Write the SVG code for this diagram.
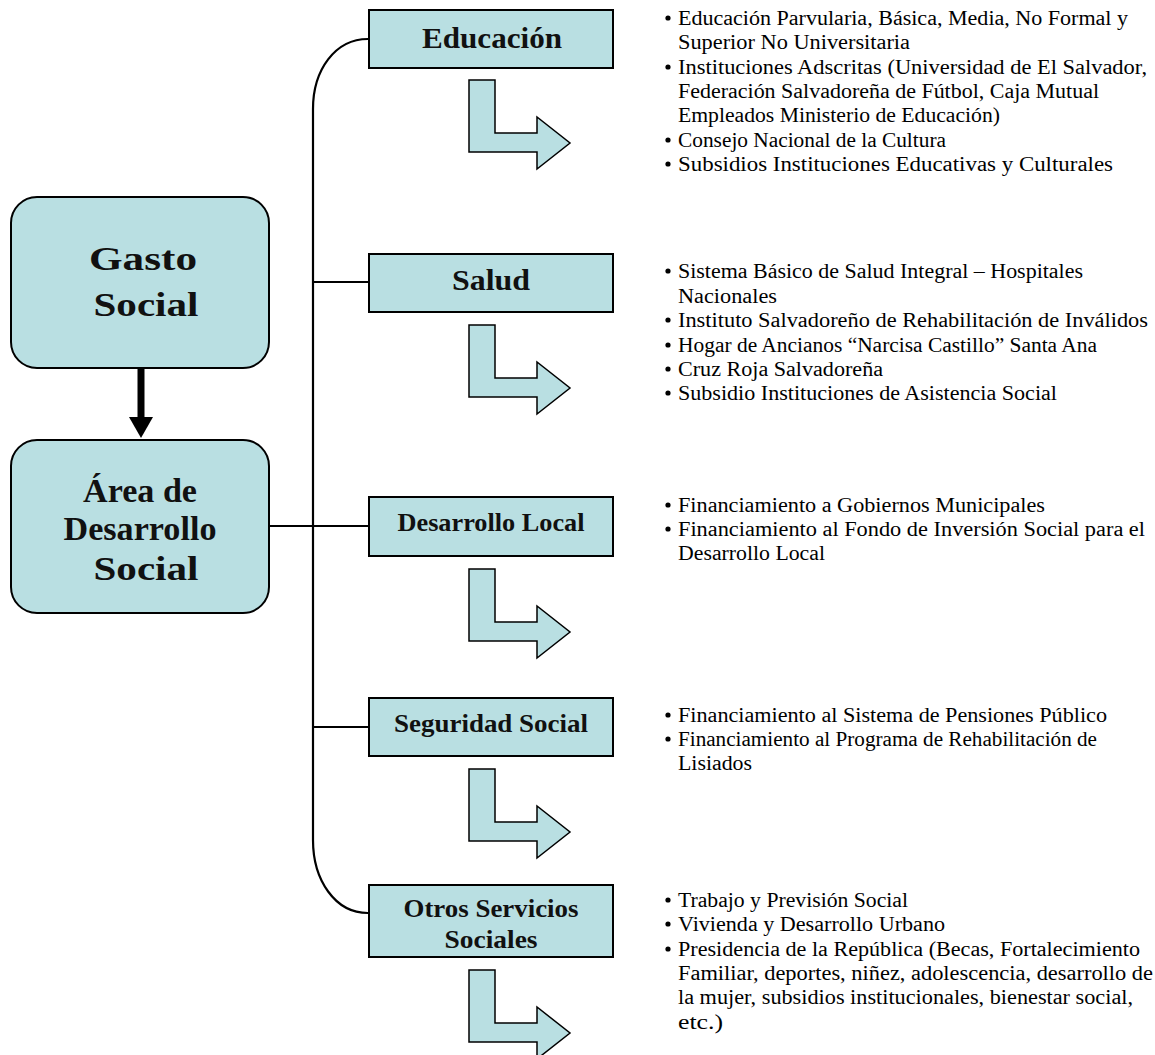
<svg xmlns="http://www.w3.org/2000/svg" width="1155" height="1055" viewBox="0 0 1155 1055">
<style>
.box{fill:#B9DFE2;stroke:#000;stroke-width:2}
.conn{fill:none;stroke:#000;stroke-width:2.2}
.bent{fill:#B9DFE2;stroke:#000;stroke-width:1.5}
.hd{font-family:"Liberation Serif","Times New Roman",serif;font-weight:bold;fill:#111;text-anchor:middle}
.big{font-size:34px}
.mid{font-size:29px}
.sm{font-size:25px}
.tx{font-family:"Liberation Serif","Times New Roman",serif;font-size:20px;fill:#000}
</style>
<defs>
<polygon id="bent" points="0,0 26,0 26,53 68,53 68,37 101,63 68,89 68,72 0,72"/>
</defs>
<rect width="1155" height="1055" fill="#fff"/>

<g id="connectors">
<path class="conn" d="M368,39 C335,39 313,70 313,109 L313,840 C313,880 335,913 368,913"/>
<path class="conn" d="M313,282 H369"/>
<path class="conn" d="M269,526 H369"/>
<path class="conn" d="M313,727 H369"/>
<line x1="141" y1="368" x2="141" y2="419" stroke="#000" stroke-width="7"/>
<polygon points="129,417 153,417 141,438" fill="#000"/>
</g>

<g id="gasto">
<rect class="box" x="11" y="197" width="258" height="171" rx="26"/>
<text class="hd big" x="143" y="270" textLength="108" lengthAdjust="spacingAndGlyphs">Gasto</text>
<text class="hd big" x="146" y="316" textLength="105" lengthAdjust="spacingAndGlyphs">Social</text>
</g>

<g id="area">
<rect class="box" x="11" y="440" width="258" height="173" rx="26"/>
<text class="hd big" x="140" y="502" textLength="114" lengthAdjust="spacingAndGlyphs">Área de</text>
<text class="hd big" x="140" y="540" textLength="153" lengthAdjust="spacingAndGlyphs">Desarrollo</text>
<text class="hd big" x="146" y="580" textLength="105" lengthAdjust="spacingAndGlyphs">Social</text>
</g>

<g id="educacion">
<rect class="box" x="369" y="10" width="244" height="58"/>
<text class="hd mid" x="492" y="48" textLength="140" lengthAdjust="spacingAndGlyphs">Educación</text>
<use href="#bent" class="bent" transform="translate(469,80)"/>
<g class="tx">
<circle cx="668" cy="18" r="2.6"/><text x="678" y="25" textLength="450" lengthAdjust="spacingAndGlyphs">Educación Parvularia, Básica, Media, No Formal y</text>
<text x="678" y="49" textLength="232" lengthAdjust="spacingAndGlyphs">Superior No Universitaria</text>
<circle cx="668" cy="67" r="2.6"/><text x="678" y="74" textLength="469" lengthAdjust="spacingAndGlyphs">Instituciones Adscritas (Universidad de El Salvador,</text>
<text x="678" y="98" textLength="421" lengthAdjust="spacingAndGlyphs">Federación Salvadoreña de Fútbol, Caja Mutual</text>
<text x="678" y="122" textLength="322" lengthAdjust="spacingAndGlyphs">Empleados Ministerio de Educación)</text>
<circle cx="668" cy="140" r="2.6"/><text x="678" y="147" textLength="268" lengthAdjust="spacingAndGlyphs">Consejo Nacional de la Cultura</text>
<circle cx="668" cy="164" r="2.6"/><text x="678" y="171" textLength="435" lengthAdjust="spacingAndGlyphs">Subsidios Instituciones Educativas y Culturales</text>
</g>
</g>

<g id="salud">
<rect class="box" x="369" y="254" width="244" height="58"/>
<text class="hd mid" x="491" y="290" textLength="78" lengthAdjust="spacingAndGlyphs">Salud</text>
<use href="#bent" class="bent" transform="translate(469,325)"/>
<g class="tx">
<circle cx="668" cy="271" r="2.6"/><text x="678" y="278" textLength="405" lengthAdjust="spacingAndGlyphs">Sistema Básico de Salud Integral – Hospitales</text>
<text x="678" y="303" textLength="99" lengthAdjust="spacingAndGlyphs">Nacionales</text>
<circle cx="668" cy="320" r="2.6"/><text x="678" y="327" textLength="470" lengthAdjust="spacingAndGlyphs">Instituto Salvadoreño de Rehabilitación de Inválidos</text>
<circle cx="668" cy="345" r="2.6"/><text x="678" y="352" textLength="419" lengthAdjust="spacingAndGlyphs">Hogar de Ancianos “Narcisa Castillo” Santa Ana</text>
<circle cx="668" cy="369" r="2.6"/><text x="678" y="376" textLength="205" lengthAdjust="spacingAndGlyphs">Cruz Roja Salvadoreña</text>
<circle cx="668" cy="393" r="2.6"/><text x="678" y="400" textLength="379" lengthAdjust="spacingAndGlyphs">Subsidio Instituciones de Asistencia Social</text>
</g>
</g>

<g id="desarrollo">
<rect class="box" x="369" y="497" width="244" height="59"/>
<text class="hd sm" x="491" y="531" textLength="187" lengthAdjust="spacingAndGlyphs">Desarrollo Local</text>
<use href="#bent" class="bent" transform="translate(469,569)"/>
<g class="tx">
<circle cx="668" cy="505" r="2.6"/><text x="678" y="512" textLength="367" lengthAdjust="spacingAndGlyphs">Financiamiento a Gobiernos Municipales</text>
<circle cx="668" cy="529" r="2.6"/><text x="678" y="536" textLength="467" lengthAdjust="spacingAndGlyphs">Financiamiento al Fondo de Inversión Social para el</text>
<text x="678" y="560" textLength="147" lengthAdjust="spacingAndGlyphs">Desarrollo Local</text>
</g>
</g>

<g id="seguridad">
<rect class="box" x="369" y="698" width="244" height="58"/>
<text class="hd sm" x="491" y="732" textLength="194" lengthAdjust="spacingAndGlyphs">Seguridad Social</text>
<use href="#bent" class="bent" transform="translate(469,769)"/>
<g class="tx">
<circle cx="668" cy="715" r="2.6"/><text x="678" y="722" textLength="429" lengthAdjust="spacingAndGlyphs">Financiamiento al Sistema de Pensiones Público</text>
<circle cx="668" cy="739" r="2.6"/><text x="678" y="746" textLength="419" lengthAdjust="spacingAndGlyphs">Financiamiento al Programa de Rehabilitación de</text>
<text x="678" y="770" textLength="74" lengthAdjust="spacingAndGlyphs">Lisiados</text>
</g>
</g>

<g id="otros">
<rect class="box" x="369" y="885" width="244" height="72"/>
<text class="hd sm" x="491" y="917" textLength="175" lengthAdjust="spacingAndGlyphs">Otros Servicios</text>
<text class="hd sm" x="491" y="948" textLength="93" lengthAdjust="spacingAndGlyphs">Sociales</text>
<use href="#bent" class="bent" transform="translate(469,970)"/>
<g class="tx">
<circle cx="668" cy="900" r="2.6"/><text x="678" y="907" textLength="230" lengthAdjust="spacingAndGlyphs">Trabajo y Previsión Social</text>
<circle cx="668" cy="924" r="2.6"/><text x="678" y="931" textLength="267" lengthAdjust="spacingAndGlyphs">Vivienda y Desarrollo Urbano</text>
<circle cx="668" cy="949" r="2.6"/><text x="678" y="956" textLength="462" lengthAdjust="spacingAndGlyphs">Presidencia de la República (Becas, Fortalecimiento</text>
<text x="678" y="980" textLength="475" lengthAdjust="spacingAndGlyphs">Familiar, deportes, niñez, adolescencia, desarrollo de</text>
<text x="678" y="1004" textLength="455" lengthAdjust="spacingAndGlyphs">la mujer, subsidios institucionales, bienestar social,</text>
<text x="678" y="1029" textLength="45" lengthAdjust="spacingAndGlyphs">etc.)</text>
</g>
</g>
</svg>
